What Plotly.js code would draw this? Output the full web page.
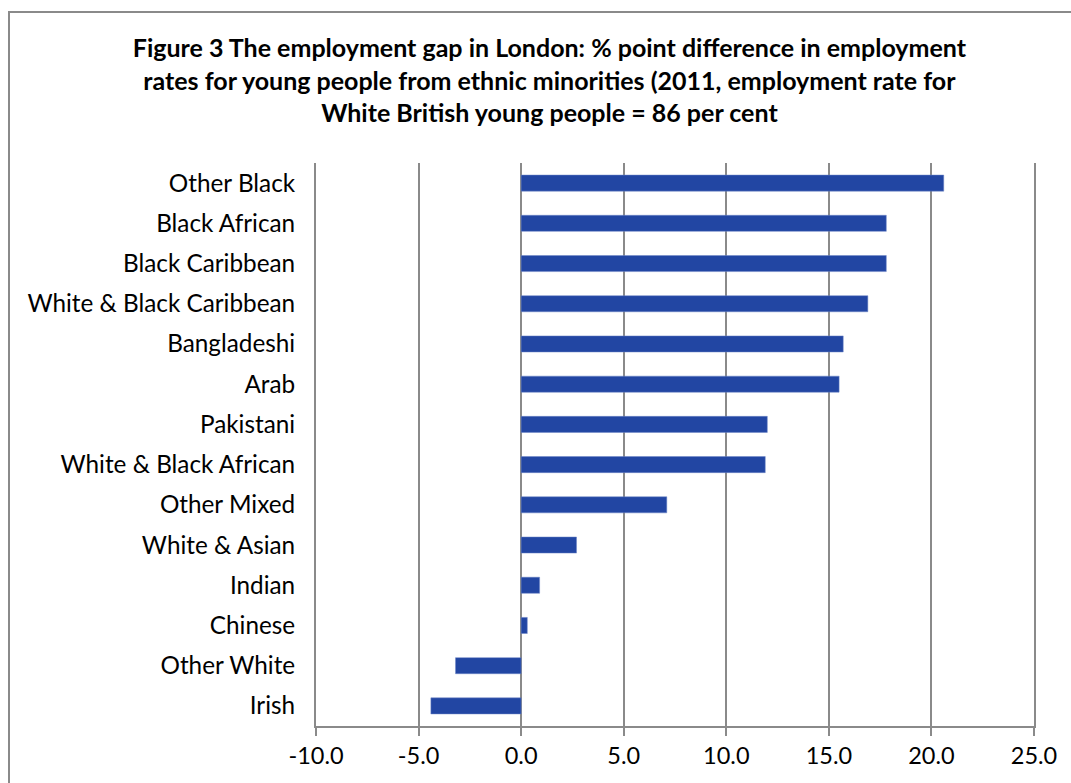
<!DOCTYPE html>
<html><head><meta charset="utf-8">
<script src="https://cdn.plot.ly/plotly-3.0.1.min.js"></script>
<style>html,body{margin:0;padding:0;background:#fff;overflow:hidden;}#chart{width:1071px;height:783px;position:relative;}
#frame{position:absolute;left:8px;top:11px;width:1100px;height:900px;border:2px solid #8a8a8a;pointer-events:none;}</style>
</head><body><div style="position:relative;width:1071px;height:783px;overflow:hidden;"><div id="chart"></div><div id="frame"></div></div>
<script>
const categories = ["Other Black","Black African","Black Caribbean","White & Black Caribbean","Bangladeshi","Arab","Pakistani","White & Black African","Other Mixed","White & Asian","Indian","Chinese","Other White","Irish"];
const gapValues = [20.6,17.8,17.8,16.9,15.7,15.5,12.0,11.9,7.1,2.7,0.9,0.3,-3.2,-4.4];
const xTicks = [-10,-5,0,5,10,15,20,25];
const xTickText = ["-10.0","-5.0","0.0","5.0","10.0","15.0","20.0","25.0"];

const trace = {
  type:'bar', orientation:'h',
  y: categories.slice().reverse(), x: gapValues.slice().reverse(),
  marker:{color:'#2246A3', line:{color:'#6f86c6', width:0.5}},
  hoverinfo:'x+y'
};
const layout = {
  width:1071, height:783,
  margin:{l:316, r:37, t:163, b:57},
  paper_bgcolor:'#fff', plot_bgcolor:'#fff',
  bargap:0.6,
  showlegend:false,
  font:{family:'Lato, "Open Sans", sans-serif', color:'#000'},
  title:{text:'<b>Figure 3 The employment gap in London: % point difference in employment<br>rates for young people from ethnic minorities (2011, employment rate for<br>White British young people = 86 per cent</b>',
    x:0.513, xanchor:'center', y:0.927, yanchor:'top', font:{size:25, family:'Lato, sans-serif', color:'#000'}},
  xaxis:{range:[-10,25], tickvals:xTicks, ticktext:xTickText, showgrid:true, gridcolor:'#8a8a8a', gridwidth:2,
    zeroline:true, zerolinecolor:'#8a8a8a', zerolinewidth:2,
    showline:true, linecolor:'#8a8a8a', linewidth:2, ticks:'outside', ticklen:8, tickcolor:'#8a8a8a', tickwidth:2,
    tickfont:{size:23.5, color:'#000'}, fixedrange:true},
  yaxis:{type:'category', showgrid:false, zeroline:false, showline:true, mirror:true, linecolor:'#8a8a8a', linewidth:2,
    ticks:'', ticklabelstandoff:14,
    tickfont:{size:24.3, color:'#000'}, fixedrange:true}
};
Plotly.newPlot('chart',[trace],layout,{displayModeBar:false, staticPlot:true});
</script></body></html>
